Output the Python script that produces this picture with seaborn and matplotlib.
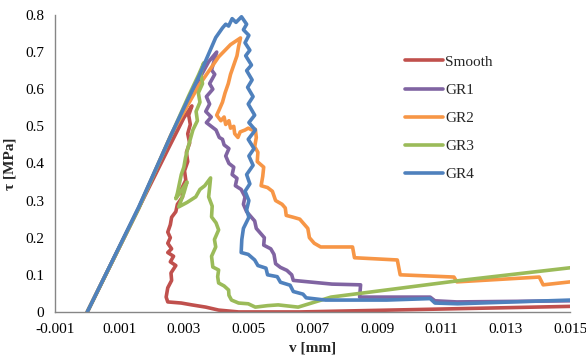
import numpy as np
import pandas as pd
import matplotlib
matplotlib.use("Agg")
import matplotlib.pyplot as plt
import seaborn as sns

# series (v [mm], tau [MPa])
smooth_v = [0.0, 0.0016, 0.0025, 0.0030, 0.00325, 0.00315, 0.00320, 0.00312, 0.00318, 0.00308,
            0.00312, 0.00302, 0.00306, 0.00292, 0.00296, 0.00280, 0.00275, 0.00262, 0.00258,
            0.00250, 0.00258, 0.00250, 0.00262, 0.00250, 0.00268, 0.00258, 0.00275, 0.00260,
            0.00262, 0.00250, 0.00245, 0.00250, 0.00292, 0.00325, 0.00368, 0.00408, 0.00470,
            0.0066, 0.015]
smooth_t = [0.0, 0.28, 0.437, 0.523, 0.555, 0.530, 0.505, 0.480, 0.455, 0.430,
            0.405, 0.380, 0.355, 0.330, 0.310, 0.290, 0.270, 0.255, 0.235,
            0.215, 0.200, 0.185, 0.170, 0.160, 0.150, 0.135, 0.125, 0.105,
            0.085, 0.065, 0.040, 0.027, 0.024, 0.019, 0.013, 0.005, 0.0,
            0.0, 0.015]

gr1_v = [0.0, 0.0016, 0.0026, 0.00346, 0.00377, 0.00402, 0.00386, 0.00396, 0.00380, 0.00390,
         0.00370, 0.00380, 0.00368, 0.00385, 0.00370, 0.00400, 0.00410, 0.00420, 0.00425,
         0.00440, 0.00430, 0.00440, 0.00455, 0.00450, 0.00465, 0.00460, 0.00478, 0.00490,
         0.00485, 0.00495, 0.00510, 0.00520, 0.00525, 0.00540, 0.00550, 0.00548, 0.00570,
         0.00580, 0.00585, 0.00600, 0.00620, 0.00635, 0.00640, 0.00700, 0.00760, 0.00849,
         0.00846, 0.01065, 0.01080, 0.01148, 0.015]
gr1_t = [0.0, 0.28, 0.474, 0.625, 0.674, 0.70, 0.652, 0.640, 0.615, 0.600,
         0.580, 0.560, 0.540, 0.525, 0.510, 0.490, 0.470, 0.465, 0.450,
         0.440, 0.420, 0.400, 0.390, 0.370, 0.360, 0.340, 0.330, 0.310,
         0.290, 0.270, 0.255, 0.245, 0.225, 0.210, 0.200, 0.180, 0.170,
         0.155, 0.130, 0.120, 0.112, 0.100, 0.085, 0.080, 0.075, 0.073,
         0.040, 0.040, 0.030, 0.027, 0.030]

gr2_v = [0.0, 0.0016, 0.0026, 0.00346, 0.00408, 0.00445, 0.00476, 0.00470, 0.00465, 0.00455,
         0.00445, 0.00438, 0.00428, 0.00420, 0.00410, 0.00402, 0.00415, 0.00425, 0.00430,
         0.00440, 0.00445, 0.00455, 0.00458, 0.00468, 0.00475, 0.00490, 0.00500, 0.00512,
         0.00522, 0.00525, 0.00520, 0.00530, 0.00528, 0.00548, 0.00545, 0.00540, 0.00560,
         0.00575, 0.00585, 0.00605, 0.00615, 0.00618, 0.00640, 0.00660, 0.00675, 0.00685,
         0.00690, 0.00705, 0.00725, 0.00824, 0.00830, 0.00963, 0.00972, 0.01139, 0.01148,
         0.01404, 0.01416, 0.015]
gr2_t = [0.0, 0.280, 0.477, 0.609, 0.687, 0.720, 0.738, 0.715, 0.690, 0.665,
         0.640, 0.615, 0.590, 0.565, 0.545, 0.530, 0.515, 0.525, 0.505,
         0.515, 0.495, 0.500, 0.480, 0.470, 0.485, 0.490, 0.495, 0.490,
         0.492, 0.470, 0.445, 0.430, 0.405, 0.390, 0.365, 0.340, 0.335,
         0.325, 0.300, 0.290, 0.280, 0.260, 0.255, 0.250, 0.235, 0.225,
         0.200, 0.185, 0.175, 0.175, 0.146, 0.140, 0.100, 0.094, 0.081,
         0.094, 0.073, 0.081]

gr3_v = [0.0, 0.0016, 0.00254, 0.00315, 0.00346, 0.00362, 0.00352, 0.00358, 0.00345, 0.00350,
         0.00338, 0.00342, 0.00328, 0.00320, 0.00312, 0.00305, 0.00300, 0.00292, 0.00286,
         0.00280, 0.00275, 0.00294, 0.00310, 0.00300, 0.00284, 0.00310, 0.00337, 0.00350,
         0.00365, 0.00383, 0.00380, 0.00377, 0.00388, 0.00386, 0.00400, 0.00408, 0.00395,
         0.00399, 0.00386, 0.00390, 0.00408, 0.00405, 0.00408, 0.00425, 0.00439, 0.00440,
         0.00448, 0.00470, 0.00500, 0.00522, 0.00560, 0.00593, 0.00655, 0.00757, 0.0117,
         0.015]
gr3_t = [0.0, 0.28, 0.464, 0.582, 0.639, 0.671, 0.640, 0.615, 0.590, 0.565,
         0.540, 0.515, 0.490, 0.465, 0.440, 0.415, 0.390, 0.370, 0.345,
         0.320, 0.305, 0.329, 0.350, 0.320, 0.283, 0.295, 0.310, 0.330,
         0.340, 0.361, 0.335, 0.310, 0.285, 0.256, 0.240, 0.221, 0.195,
         0.175, 0.150, 0.121, 0.113, 0.095, 0.078, 0.070, 0.059, 0.045,
         0.032, 0.024, 0.022, 0.013, 0.017, 0.019, 0.013, 0.040, 0.086,
         0.119]

gr4_v = [0.0, 0.0016, 0.00263, 0.00346, 0.00399, 0.00420, 0.00430, 0.00439, 0.00450, 0.00462,
         0.00479, 0.00495, 0.00485, 0.00502, 0.00490, 0.00505, 0.00492, 0.00510, 0.00495,
         0.00512, 0.00498, 0.00515, 0.00500, 0.00520, 0.00502, 0.00522, 0.00500, 0.00518,
         0.00502, 0.00515, 0.00495, 0.00505, 0.00490, 0.00502, 0.00495, 0.00502, 0.00485,
         0.00480, 0.00478, 0.00500, 0.00520, 0.00530, 0.00555, 0.00560, 0.00590, 0.00600,
         0.00630, 0.00640, 0.00670, 0.00680, 0.00740, 0.0093, 0.01065, 0.01080, 0.01150,
         0.015]
gr4_t = [0.0, 0.283, 0.482, 0.633, 0.739, 0.765, 0.775, 0.770, 0.790, 0.780,
         0.795, 0.775, 0.760, 0.745, 0.725, 0.705, 0.690, 0.665, 0.650,
         0.625, 0.605, 0.580, 0.560, 0.530, 0.510, 0.490, 0.465, 0.440,
         0.420, 0.395, 0.370, 0.345, 0.325, 0.300, 0.275, 0.255, 0.225,
         0.195, 0.160, 0.155, 0.140, 0.125, 0.118, 0.100, 0.095, 0.080,
         0.072, 0.055, 0.048, 0.038, 0.032, 0.032, 0.036, 0.024, 0.022,
         0.032]

series_names = ["Smooth", "GR1", "GR2", "GR3", "GR4"]
colors = ["#C0504D", "#8064A2", "#F79646", "#9BBB59", "#4F81BD"]

x_ticks = [-0.001, 0.001, 0.003, 0.005, 0.007, 0.009, 0.011, 0.013, 0.015]
x_labels = ["-0.001", "0.001", "0.003", "0.005", "0.007", "0.009", "0.011", "0.013", "0.015"]
y_ticks = [0, 0.1, 0.2, 0.3, 0.4, 0.5, 0.6, 0.7, 0.8]
y_labels = ["0", "0.1", "0.2", "0.3", "0.4", "0.5", "0.6", "0.7", "0.8"]

# long table for seaborn
frames = []
for name, v, t in zip(series_names,
                      [smooth_v, gr1_v, gr2_v, gr3_v, gr4_v],
                      [smooth_t, gr1_t, gr2_t, gr3_t, gr4_t]):
    frames.append(pd.DataFrame({"v": v, "tau": t, "series": name, "order": np.arange(len(v))}))
df = pd.concat(frames, ignore_index=True)

sns.set_style("white")
plt.rcParams["font.family"] = ["Liberation Serif", "DejaVu Serif"]

fig = plt.figure(figsize=(5.86, 3.64), dpi=100)
ax = fig.add_axes([0.094, 0.143, 0.879, 0.816])

sns.lineplot(data=df, x="v", y="tau", hue="series", hue_order=series_names,
             palette=colors, sort=False, estimator=None, units="series",
             linewidth=2.6, ax=ax)

ax.set_xlim(-0.001, 0.015)
ax.set_ylim(0, 0.8)
ax.set_xticks(x_ticks)
ax.set_xticklabels(x_labels)
ax.set_yticks(y_ticks)
ax.set_yticklabels(y_labels)
ax.tick_params(length=0, labelsize=11, colors="black", pad=8)

for side in ["top", "right"]:
    ax.spines[side].set_visible(False)
for side in ["left", "bottom"]:
    ax.spines[side].set_color("#868686")
    ax.spines[side].set_linewidth(1.0)

ax.set_xlabel("v [mm]", fontsize=11, fontweight="bold", labelpad=4)
ax.set_ylabel("τ [MPa]", fontsize=11, fontweight="bold", labelpad=6)

ax.legend(loc="upper left", bbox_to_anchor=(0.678, 0.87), bbox_transform=fig.transFigure,
          frameon=False, fontsize=11, handlelength=2.5, handletextpad=0.15,
          labelspacing=0.95, borderpad=0)

fig.savefig("out.png", dpi=100)
